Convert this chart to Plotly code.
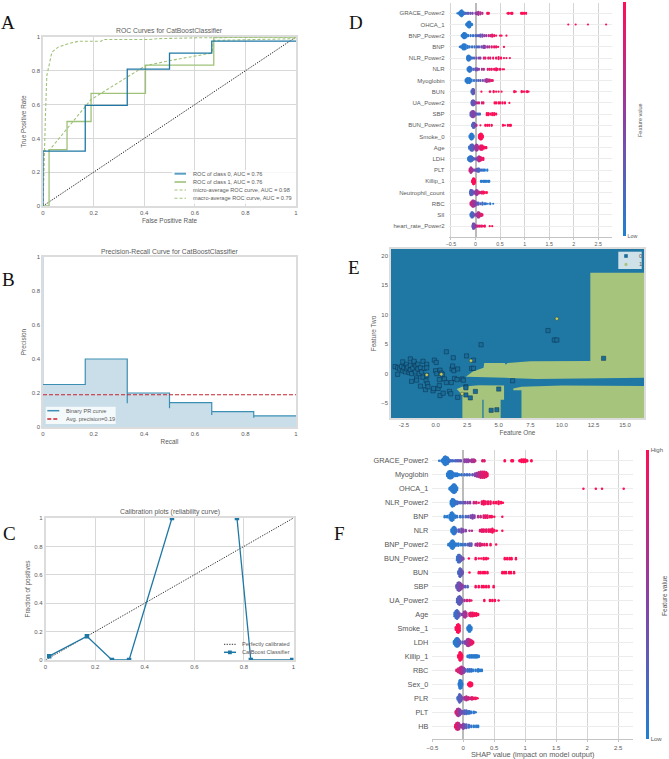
import plotly.graph_objects as go

W, H = 669, 759
FONT = "Liberation Sans"
GREY = "#5a5a5a"
BLUE = "#1f78a4"
GREEN = "#9fc27a"
SCALE = [[0, "#1f80d2"], [0.5, "#8c3fa5"], [1, "#ff0d57"]]

# ---------- A: ROC ----------
roc0_x = [0, 0, .167, .167, .333, .333, .5, .5, .667, .667, 1]
roc0_y = [0, .325, .325, .595, .595, .81, .81, .905, .905, .975, .975]
roc1_x = [0, .024, .024, .095, .095, .19, .19, .405, .405, .675, .675, 1]
roc1_y = [0, 0, .333, .333, .5, .5, .667, .667, .833, .833, 1, 1]
micro_x = [0, .002, .005, .01, .015, .025, .035, .06, .1, .14, .23, .24, .42, .45, .6, 1]
micro_y = [0, .15, .32, .55, .77, .85, .91, .94, .96, .975, .975, .985, .985, .99, .995, 1]
macro_x = [0, 0, .025, .19, .405, .5, .667, .675, 1]
macro_y = [0, .325, .33, .63, .83, .86, .905, .98, .99]
chance = [0, 1]
roc_legend = ["ROC of class 0, AUC = 0.76", "ROC of class 1, AUC = 0.76",
              "micro-average ROC curve, AUC = 0.98", "macro-average ROC curve, AUC = 0.79"]

# ---------- B: precision-recall ----------
pr_x = [0, .167, .167, .333, .333, .333, .5, .5, .5, .667, .667, .667, .833, .833, .833, 1]
pr_y = [.25, .25, .4, .4, .14, .2, .2, .11, .143, .143, .07, .09, .09, .055, .065, .065]
pr_start_x = [0, 0]
pr_start_y = [.25, 1]
avg_precision = .19

# ---------- C: calibration ----------
cal_x = [.015, .167, .268, .337, .51, None, .772, .828, .995]
cal_y = [.027, .167, 0, 0, 1, None, 1, 0, 0]

# ---------- E: decision regions ----------
arm_x = [2.4, 2.95, 3.8, 3.85, 5.5, 5.5, 5.6, 5.7, 7.5, 12.25, 12.25, 16.5, 16.5, 14.5, 12.2, 8, 5.5, 3.0, 2.4]
arm_y = [-.5, .35, 1.0, 1.8, 1.8, 1.6, 1.6, 1.8, 2.1, 2.15, 17.1, 17.1, -.7, -.75, -.9, -.9, -.7, -.6, -.5]
low_left_x = [1.67, 2.1, 3.4, 5.42, 5.42, 5.15, 5.15, 3.8, 3.8, 3.7, 3.7, 2.12, 2.12, 1.67]
low_left_y = [-2.6, -2.2, -1.95, -2.0, -4.4, -4.4, -7.5, -7.5, -4.4, -4.4, -7.5, -7.5, -3.6, -2.6]
low_right_x = [6.15, 6.8, 10, 16.5, 16.5, 6.8, 6.8, 6.15]
low_right_y = [-2.5, -2.2, -2.0, -2.1, -7.5, -7.5, -2.8, -2.8]
class0_x = [-3.2, -3.0, -3.0, -2.85, -2.7, -2.6, -2.6, -2.5, -2.4, -2.3, -2.3, -2.2, -2.1, -2.0, -2.0, -2.0, -1.9, -1.9,
            -1.8, -1.7, -1.7, -1.6, -1.55, -1.5, -1.5, -1.4, -1.4, -1.3, -1.2, -1.2, -1.1, -1.0, -1.0, -.9, -.8, -.75,
            -.7, -.7, -.7, -.65, -.6, -.2, -.15, -.1, 0, .05, .1, .2, .3, .35, .3, .35, .45, .55, .6, .7, .85, .85,
            1.1, 1.2, 1.25, 1.3, 1.35, 1.4, 1.45, 1.5, 1.7, 1.75, 1.75, 2.1, 2.2, 2.4, 2.4, 2.4, 2.45, 2.75, 2.85,
            3.0, 3.0, 3.15, 3.6, 4.4, 4.85, 5.0, 6.1, 8.9, 9.4, 9.6, 13.3]
class0_y = [1.2, -.1, 1.0, .8, 1.2, .5, 2.0, 1.0, .3, 1.6, .8, 1.1, .2, 2.5, 1.4, .6, -1.3, 0, .9, 1.8, 2.1, .3, 1.3,
            -.7, -1.1, .8, 1.6, 0, 1.0, -2.1, .3, -.6, 2.1, .9, -2.7, -1.2, -.3, 1.6, 1.0, -1.7, -2.2, -2.9, -2.5, 2.3,
            .5, 1.9, 0, -2.5, -2.0, .6, -1.0, -3.7, .1, -.1, -3.3, -.9, -1.5, 3.7, -3.0, -3.4, -1.5, .8, 1.3, 2.7, .5,
            -.8, -1.0, .8, -4.0, -.9, -1.1, -2.2, -2.4, -3.6, 3.0, -4.1, .9, .9, 2.3, -3.0, 4.9, -6.2, -6.1, -2.6, -1.2,
            7.3, 5.7, 5.7, 2.6]
class1_x = [-.7, .45, 2.8, 2.1, 9.6]
class1_y = [-.2, -.1, 2.2, -3.4, 9.3]

# ---------- D: SHAP summary, (shap value, points stacked, feature value) ----------
D_labels = ["GRACE_Power2", "OHCA_1", "BNP_Power2", "BNP", "NLR_Power2", "NLR", "Myoglobin", "BUN", "UA_Power2", "SBP",
            "BUN_Power2", "Smoke_0", "Age", "LDH", "PLT", "Killip_1", "Neutrophil_count", "RBC", "SII", "heart_rate_Power2"]
D_GRACE = [(-.37,1,.05),(-.34,2,.05),(-.32,4,.05),(-.30,6,.05),(-.28,7,.05),(-.26,5,.05),(-.24,3,.1),(-.22,2,.15),(-.20,2,.2),(-.17,2,.25),(-.14,2,.3),(-.10,2,.35),(-.06,2,.4),(0,2,.5),(.03,3,.55),(.06,4,.6),(.10,3,.65),(.14,2,.7),(.24,2,.95),(.27,2,.95),(.65,1,1),(.67,2,1),(.70,1,1),(.73,2,1),(.75,2,1),(.93,2,1),(.96,2,1),(.99,2,1),(1.03,2,1)]
D_OHCA = [(-.19,2,.05),(-.17,4,.05),(-.15,6,.05),(-.13,7,.05),(-.11,6,.05),(-.09,3,.05),(-.07,2,.05),(1.89,1,1),(2.04,1,1),(2.29,1,1),(2.66,1,1)]
D_BNP2 = [(-.28,2,.05),(-.26,4,.05),(-.24,6,.05),(-.22,6,.05),(-.2,5,.05),(-.18,3,.05),(-.15,2,.05),(-.1,2,.1),(-.05,2,.1),(0,2,.2),(.03,2,.2),(.07,2,.3),(.1,3,.3),(.14,3,.4),(.18,2,.5),(.22,2,.6),(.27,2,.65),(.31,2,.85),(.34,3,.9),(.38,2,.9),(.42,1,1),(.50,1,1),(.53,1,1),(.63,1,1)]
D_BNP = [(-.32,1,.05),(-.3,2,.05),(-.27,4,.05),(-.25,6,.05),(-.22,6,.05),(-.2,5,.05),(-.16,3,.05),(-.12,2,.1),(-.07,2,.1),(-.02,2,.15),(.03,2,.2),(.07,2,.25),(.12,2,.35),(.16,3,.45),(.19,3,.5),(.24,2,.6),(.28,2,.65),(.33,2,.85),(.38,2,.9),(.42,2,.95),(.46,1,1),(.58,1,1)]
D_NLR2 = [(-.17,3,.05),(-.16,5,.05),(-.14,6,.05),(-.12,5,.05),(-.1,3,.1),(-.07,2,.15),(-.03,2,.2),(.02,2,.4),(.07,2,.45),(.1,2,.5),(.17,2,.85),(.2,2,.85),(.26,2,.9),(.3,2,.9),(.36,2,.9),(.42,2,.95),(.47,3,.95),(.52,2,1),(.58,1,1),(.63,1,1),(.7,1,1)]
D_NLR = [(-.16,3,.05),(-.14,5,.05),(-.12,6,.05),(-.1,5,.1),(-.08,3,.15),(-.04,2,.2),(0,3,.3),(.03,3,.45),(.07,2,.5),(.13,2,.6),(.17,2,.65),(.25,2,.9),(.29,2,.9),(.33,2,.9),(.38,2,.95),(.42,3,.95),(.45,2,.95),(.5,2,1),(.55,1,1),(.58,1,1)]
D_MYO = [(-.2,3,.05),(-.18,5,.05),(-.16,6,.05),(-.13,6,.05),(-.11,5,.05),(-.08,3,.05),(-.03,2,.1),(.02,2,.15),(.06,2,.25),(.1,2,.3),(.15,2,.4),(.2,3,.55),(.23,4,.6),(.26,3,.7),(.29,3,.75),(.32,2,.9),(.35,2,.9)]
D_BUN = [(-.08,3,.15),(-.06,6,.2),(-.04,6,.3),(-.03,4,.35),(.12,1,1),(.29,1,1),(.3,1,1),(.37,2,1),(.42,1,1),(.47,1,1),(.53,1,1),(.79,2,1),(.82,1,1),(.94,2,1),(.97,1,1),(1.0,1,1),(1.05,2,1),(1.08,1,1)]
D_UA = [(-.08,3,.2),(-.07,5,.3),(-.05,6,.3),(-.03,5,.35),(-.01,3,.4),(.03,2,.7),(.07,2,.75),(.13,2,.85),(.16,2,.85),(.39,2,1),(.42,2,1),(.47,2,1),(.5,2,1),(.55,2,1),(.6,2,1),(.69,1,1)]
D_SBP = [(-.1,4,.3),(-.08,6,.35),(-.06,7,.45),(-.04,7,.5),(-.02,5,.45),(0,3,.4),(.03,2,.3),(.06,2,.2),(.09,2,.15),(.23,3,.95),(.26,3,1),(.3,2,1),(.34,3,1),(.38,3,1),(.42,2,1)]
D_BUN2 = [(-.07,3,.15),(-.05,6,.2),(-.03,6,.3),(-.01,4,.4),(.02,2,.7),(.1,1,1),(.2,2,1),(.24,2,1),(.28,2,1),(.33,2,1),(.56,2,1),(.6,1,1),(.66,2,1),(.7,2,1),(.72,2,1)]
D_SMOKE = [(-.12,3,.05),(-.1,6,.05),(-.08,7,.05),(-.06,6,.05),(-.04,3,.05),(.07,4,1),(.09,6,1),(.11,7,1),(.13,6,1),(.15,3,1)]
D_AGE = [(-.13,3,.1),(-.1,6,.15),(-.08,7,.2),(-.06,7,.25),(-.04,5,.3),(-.02,2,.4),(0,5,.55),(.02,7,.6),(.04,6,.6),(.07,3,.7),(.1,5,.85),(.12,5,.9),(.14,5,.95),(.17,3,.95),(.2,2,1),(.22,2,1)]
D_LDH = [(-.15,3,.05),(-.13,5,.05),(-.11,6,.1),(-.09,6,.1),(-.07,5,.15),(-.05,3,.2),(-.02,2,.3),(.01,2,.4),(.04,4,.5),(.07,6,.65),(.09,5,.75),(.11,4,.85),(.13,3,.9),(.16,3,.95)]
D_PLT = [(-.12,3,.85),(-.1,6,.7),(-.09,6,.65),(-.07,4,.6),(-.04,2,.5),(-.01,2,.4),(.02,3,.35),(.05,4,.25),(.07,4,.2),(.1,2,.15),(.13,2,.1),(.16,2,.1),(.19,2,.05),(.24,2,.05)]
D_KILLIP = [(-.07,3,1),(-.05,6,1),(-.04,7,1),(-.02,6,1),(-.01,3,1),(.11,2,.05),(.13,2,.05),(.16,2,.05),(.18,2,.05),(.2,2,.05),(.23,2,.05),(.26,2,.05),(.28,2,.05)]
D_NEUT = [(-.11,3,.15),(-.1,6,.2),(-.08,6,.25),(-.06,5,.3),(-.03,3,.4),(0,4,.5),(.02,6,.55),(.04,5,.6),(.07,3,.7),(.1,2,.8),(.13,3,.9),(.16,3,.95),(.19,2,1),(.23,2,1)]
D_RBC = [(-.1,3,.8),(-.08,5,.75),(-.06,7,.7),(-.04,7,.6),(-.02,6,.55),(0,5,.5),(.03,3,.35),(.06,3,.25),(.1,2,.2),(.14,3,.15),(.18,2,.1),(.21,2,.1),(.25,1,.05),(.3,2,.05),(.36,1,.05)]
D_SII = [(-.1,3,.1),(-.08,6,.15),(-.06,6,.2),(-.04,4,.3),(-.01,2,.4),(.02,3,.55),(.05,6,.6),(.07,6,.65),(.09,4,.75),(.12,3,.85),(.14,2,.9)]
D_HR = [(-.06,3,.3),(-.05,6,.35),(-.03,6,.4),(-.01,4,.45),(.02,2,.7),(.05,2,.8),(.09,2,.85),(.13,2,.9),(.16,1,.95),(.19,2,.95),(.29,1,1),(.34,1,1)]
D_rows = [D_GRACE, D_OHCA, D_BNP2, D_BNP, D_NLR2, D_NLR, D_MYO, D_BUN, D_UA, D_SBP, D_BUN2, D_SMOKE, D_AGE, D_LDH, D_PLT, D_KILLIP, D_NEUT, D_RBC, D_SII, D_HR]

# ---------- F: SHAP summary ----------
F_labels = ["GRACE_Power2", "Myoglobin", "OHCA_1", "NLR_Power2", "BNP", "NLR", "BNP_Power2", "BUN_Power2", "BUN", "SBP",
            "UA_Power2", "Age", "Smoke_1", "LDH", "Killip_1", "RBC", "Sex_0", "PLR", "PLT", "HB"]
F_GRACE = [(-.39,1,.05),(-.35,2,.05),(-.33,4,.05),(-.31,7,.05),(-.29,8,.05),(-.27,7,.05),(-.25,6,.05),(-.23,3,.1),(-.2,2,.15),(-.17,2,.15),(-.13,2,.2),(-.1,2,.25),(-.07,2,.3),(-.04,2,.35),(.02,3,.5),(.05,3,.5),(.08,3,.55),(.11,2,.55),(.14,3,.6),(.17,3,.65),(.19,2,.7),(.31,2,.85),(.34,2,.85),(.67,2,1),(.78,2,1),(.8,2,1),(.91,2,1),(.94,3,1),(.97,3,1),(1.0,3,1),(1.03,2,1),(1.1,2,1)]
F_MYO = [(-.26,3,.05),(-.24,6,.05),(-.22,7,.05),(-.2,7,.05),(-.18,6,.05),(-.16,4,.05),(-.13,3,.05),(-.1,3,.05),(-.07,2,.05),(-.03,2,.1),(.02,2,.15),(.06,2,.15),(.1,2,.2),(.15,2,.3),(.19,3,.45),(.22,4,.55),(.25,5,.65),(.28,6,.8),(.31,6,.85),(.34,6,.85),(.37,5,.9),(.39,3,.95)]
F_OHCA = [(-.22,2,.05),(-.2,4,.05),(-.18,6,.05),(-.16,8,.05),(-.14,8,.05),(-.12,6,.05),(-.1,3,.05),(1.94,1,1),(2.14,1,1),(2.24,1,1),(2.59,1,1)]
F_NLR2 = [(-.2,4,.05),(-.18,7,.05),(-.17,7,.05),(-.15,6,.05),(-.13,4,.1),(-.1,3,.15),(-.07,2,.2),(-.04,2,.25),(0,2,.3),(.03,2,.4),(.07,2,.45),(.11,2,.5),(.17,2,.75),(.21,2,.85),(.25,1,.9),(.3,3,.95),(.33,4,.95),(.36,3,.95),(.4,3,.95),(.44,3,.95),(.49,2,1),(.53,2,1),(.57,3,1),(.61,2,1),(.64,1,1)]
F_BNP = [(-.3,2,.05),(-.26,2,.05),(-.22,4,.05),(-.2,7,.05),(-.18,8,.05),(-.16,6,.05),(-.13,3,.05),(-.1,2,.1),(-.05,2,.1),(-.01,2,.15),(.04,2,.2),(.08,2,.25),(.12,3,.4),(.15,4,.45),(.18,3,.5),(.24,2,.7),(.28,2,.75),(.33,3,.85),(.36,3,.9),(.39,3,.9),(.43,2,.95),(.46,2,.95),(.5,1,1),(.63,1,1)]
F_NLR = [(-.19,3,.05),(-.17,6,.05),(-.15,7,.05),(-.13,6,.1),(-.11,3,.15),(-.07,3,.3),(-.03,4,.4),(0,3,.45),(.04,2,.5),(.1,1,.6),(.14,1,.7),(.27,2,.85),(.3,3,.9),(.33,3,.9),(.37,3,.9),(.41,3,.95),(.44,3,.95),(.47,4,.95),(.5,2,1),(.54,1,1),(.63,1,1)]
F_BNP2 = [(-.24,2,.05),(-.21,4,.05),(-.19,7,.05),(-.17,8,.05),(-.15,6,.05),(-.12,3,.05),(-.08,3,.05),(-.04,2,.1),(-.01,2,.1),(.03,2,.15),(.07,2,.2),(.1,3,.3),(.13,3,.3),(.2,2,.6),(.23,3,.7),(.27,3,.8),(.3,2,.85),(.34,2,.9),(.38,2,.95),(.44,2,.95),(.53,1,1)]
F_BUN2 = [(-.1,4,.1),(-.08,7,.15),(-.06,7,.2),(-.04,5,.25),(-.02,3,.35),(0,2,.45),(.09,1,1),(.2,2,1),(.25,1,1),(.29,1,1),(.33,2,1),(.37,2,1),(.4,1,1),(.67,2,1),(.71,2,1),(.75,2,1),(.78,2,1),(.85,2,1)]
F_BUN = [(-.08,3,.15),(-.06,7,.2),(-.05,8,.25),(-.03,6,.3),(-.01,3,.35),(.1,1,1),(.25,2,1),(.28,2,1),(.32,2,1),(.35,2,1),(.39,2,1),(.63,2,1),(.66,2,1),(.69,2,1),(.74,2,1),(.77,2,1),(.82,2,1)]
F_SBP = [(-.11,3,.3),(-.09,7,.35),(-.07,8,.35),(-.05,7,.45),(-.03,5,.5),(-.01,3,.5),(.03,2,.3),(.07,2,.2),(.2,2,.95),(.25,2,1),(.3,2,1),(.33,2,1),(.37,2,1),(.41,2,1),(.49,2,1)]
F_UA = [(-.1,4,.2),(-.08,7,.25),(-.06,8,.3),(-.04,6,.3),(-.02,3,.35),(.02,2,.7),(.06,2,.75),(.1,2,.85),(.13,1,.9),(.34,2,1),(.43,2,1),(.47,2,1),(.51,2,1),(.57,1,1)]
F_AGE = [(-.14,4,.1),(-.12,7,.15),(-.1,8,.2),(-.08,6,.25),(-.06,3,.3),(-.02,2,.45),(.01,5,.55),(.03,6,.6),(.05,4,.65),(.1,3,.85),(.12,4,.9),(.15,4,.95),(.18,3,.95),(.21,3,1),(.24,2,1)]
F_SMOKE = [(-.12,3,1),(-.1,7,1),(-.08,8,1),(-.06,6,1),(.07,3,.05),(.09,6,.05),(.11,6,.05),(.13,3,.05)]
F_LDH = [(-.15,3,.05),(-.13,6,.05),(-.11,8,.05),(-.09,8,.1),(-.07,6,.15),(-.05,3,.2),(-.01,2,.3),(.03,3,.45),(.06,6,.55),(.08,7,.6),(.1,6,.7),(.12,5,.8),(.14,4,.9),(.16,2,.95)]
F_KILLIP = [(-.08,3,1),(-.06,7,1),(-.05,8,1),(-.03,6,1),(-.02,3,1),(.07,2,.05),(.1,3,.05),(.13,3,.05),(.16,3,.05),(.19,3,.05),(.22,3,.05),(.25,2,.05)]
F_RBC = [(-.11,2,.9),(-.08,4,.8),(-.05,6,.75),(-.03,7,.7),(-.01,6,.6),(.01,5,.5),(.03,3,.35),(.07,3,.15),(.1,3,.1),(.13,3,.1),(.16,2,.05),(.2,2,.05),(.24,3,.05),(.27,2,.05),(.3,2,.05)]
F_SEX = [(-.07,3,.05),(-.06,7,.05),(-.05,8,.05),(-.03,7,.05),(-.02,3,.05),(.08,2,1),(.1,4,1),(.12,4,1),(.14,3,1)]
F_PLR = [(-.09,3,.15),(-.07,6,.2),(-.06,8,.25),(-.04,6,.3),(-.02,3,.35),(.02,3,.6),(.05,4,.7),(.08,3,.75),(.11,2,.8),(.14,3,.85),(.17,2,.9),(.2,2,.95),(.23,1,1)]
F_PLT = [(-.12,3,.85),(-.1,6,.75),(-.08,7,.6),(-.06,6,.5),(-.04,4,.45),(-.01,3,.35),(.02,4,.25),(.05,4,.2),(.08,3,.15),(.1,3,.1),(.13,2,.1),(.17,2,.05),(.2,1,.05)]
F_HB = [(-.13,3,.9),(-.11,6,.85),(-.09,7,.8),(-.07,6,.7),(-.05,3,.6),(-.02,3,.55),(0,5,.5),(.02,4,.4),(.05,4,.25),(.09,3,.15),(.13,2,.1),(.17,2,.05),(.21,2,.05),(.24,2,.05)]
F_rows = [F_GRACE, F_MYO, F_OHCA, F_NLR2, F_BNP, F_NLR, F_BNP2, F_BUN2, F_BUN, F_SBP, F_UA, F_AGE, F_SMOKE, F_LDH, F_KILLIP, F_RBC, F_SEX, F_PLR, F_PLT, F_HB]

fig = go.Figure()
px = lambda v: v / W
py = lambda v: 1 - v / H


def axes(n, x0, x1, y0, y1, xr, yr, xticks, yticks, xtitle, ytitle, grid=True, xstand=4, ystand=4, line=True, tfs=6, tts=6.4):
    common = dict(showline=line, mirror=line, linecolor="#dcdcdc", linewidth=1.5, showgrid=grid, gridcolor="#d8d8d8",
                  gridwidth=1, zeroline=False, ticks="", tickfont=dict(family=FONT, size=tfs, color=GREY),
                  automargin=False)
    xa = dict(common, domain=[px(x0), px(x1)], range=xr, tickvals=xticks, anchor=f"y{n}",
              title=dict(text=xtitle, standoff=xstand, font=dict(family=FONT, size=tts, color=GREY)))
    ya = dict(common, domain=[py(y1), py(y0)], range=yr, tickvals=yticks, anchor=f"x{n}",
              title=dict(text=ytitle, standoff=ystand, font=dict(family=FONT, size=tts, color=GREY)))
    fig.update_layout({f"xaxis{n}": xa, f"yaxis{n}": ya})


annos, shapes = [], []


def text(x, y, s, size=6.5, color=GREY, anchor="center", angle=0, family=FONT):
    annos.append(dict(x=px(x), y=py(y), xref="paper", yref="paper", text=s, showarrow=False, xanchor=anchor,
                      yanchor="middle", textangle=angle, font=dict(family=family, size=size, color=color)))


def key_line(x0, x1, y, color, dash="solid", width=1.5):
    shapes.append(dict(type="line", xref="paper", yref="paper", x0=px(x0), x1=px(x1), y0=py(y), y1=py(y),
                       line=dict(color=color, dash=dash, width=width)))


def box(x0, y0, x1, y1, fill):
    shapes.append(dict(type="rect", xref="paper", yref="paper", x0=px(x0), x1=px(x1), y0=py(y0), y1=py(y1),
                       fillcolor=fill, line=dict(width=0)))


def line(n, x, y, color, width=1.5, dash="solid", **kw):
    fig.add_trace(go.Scatter(x=x, y=y, mode="lines", line=dict(color=color, width=width, dash=dash),
                             xaxis=f"x{n}", yaxis=f"y{n}", showlegend=False, hoverinfo="skip", **kw))


tk = [0, .2, .4, .6, .8, 1]
SHORT_DASH = "3px,2px"
FINE_DOT = "1.3px,1.3px"
# A
axes(1, 43, 296, 37, 206, [0, 1], [0, 1], tk, tk, "False Positive Rate", "True Positive Rate")
line(1, chance, chance, "#222222", 1, FINE_DOT)
line(1, micro_x, micro_y, GREEN, 1.1, SHORT_DASH)
line(1, macro_x, macro_y, GREEN, 1.1, SHORT_DASH)
line(1, roc1_x, roc1_y, GREEN, 1.3)
line(1, roc0_x, roc0_y, BLUE, 1.3)
# B
axes(2, 43, 296, 257, 427, [0, 1], [0, 1], tk, tk, "Recall", "Precision", grid=False)
line(2, pr_start_x, pr_start_y, "#c9dee8", 2)
line(2, pr_x, pr_y, "#3c8fb3", 1.2, fill="tozeroy", fillcolor="#c9dee8")
line(2, [0, 1], [avg_precision, avg_precision], "#c8232c", 1.1, "4px,2px")
# C
axes(3, 45.5, 293.5, 518, 660, [0, 1], [0, 1], tk, tk, "", "Fraction of positives", ystand=3)
line(3, chance, chance, "#333333", 1, FINE_DOT)
fig.add_trace(go.Scatter(x=cal_x, y=cal_y, mode="lines+markers", line=dict(color=BLUE, width=1.3),
                         marker=dict(symbol="square", size=4.5, color=BLUE), xaxis="x3", yaxis="y3",
                         showlegend=False, hoverinfo="skip"))


def swarm(n, rows, labels, x0, x1, y0, y1, xr, yr, size, cb_x, cb_y0, cb_y1, lab_size, tick_size, xtitle, lab_color, gap):
    xs, ys, cs = [], [], []
    for i, row in enumerate(rows):
        for shap, count, val in row:
            for k in range(count):
                xs.append(shap)
                ys.append(i + (k - (count - 1) / 2) * gap)
                cs.append(val)
    axes(n, x0, x1, y0, y1, xr, yr, [-.5, 0, .5, 1, 1.5, 2, 2.5], list(range(len(labels))), xtitle, "", line=False,
         tfs=tick_size, xstand=1)
    fig.update_layout({
        f"xaxis{n}": dict(showline=True, mirror=False, linecolor="#c4c4c4", linewidth=1, zeroline=True,
                          zerolinecolor="#bbbbbb", zerolinewidth=1.6, gridcolor="#d4d4d4", ticks="outside",
                          ticklen=2, tickcolor="#c4c4c4"),
        f"yaxis{n}": dict(ticktext=labels, gridcolor="#ececec",
                          tickfont=dict(family=FONT, size=lab_size, color=lab_color), ticklabelstandoff=3)})
    fig.add_trace(go.Scatter(
        x=xs, y=ys, mode="markers", xaxis=f"x{n}", yaxis=f"y{n}", showlegend=False, hoverinfo="skip",
        marker=dict(size=size, color=cs, cmin=0, cmax=1, colorscale=SCALE, line=dict(width=0),
                    colorbar=dict(x=px(cb_x), xanchor="left", y=py(cb_y1), yanchor="bottom",
                                  len=(cb_y1 - cb_y0) / H, lenmode="fraction", thickness=2.5, thicknessmode="pixels",
                                  xpad=0, ypad=0, outlinewidth=0, tickvals=[0, 1], ticktext=["Low", "High"], ticks="",
                                  tickfont=dict(family=FONT, size=tick_size, color=GREY)))))


swarm(4, D_rows, D_labels, 448.5, 612, 3, 237, [-.55, 2.78], [19.97, -.92], 2.2, 623, 2, 236, 6, 5.3, "", GREY, .09)
# E
axes(5, 391, 644, 249, 418, [-3.53, 16.5], [-7.5, 21.1], [-2.5, 0, 2.5, 5, 7.5, 10, 12.5, 15],
     [-5, 0, 5, 10, 15, 20], "Feature One", "Feature Two", grid=False, tfs=6)
fig.update_layout(xaxis5=dict(ticktext=["-2.5", "0.0", "2.5", "5.0", "7.5", "10.0", "12.5", "15.0"]))
for gx, gy in [(arm_x, arm_y), (low_left_x, low_left_y), (low_right_x, low_right_y)]:
    line(5, gx, gy, "#a6c47c", 0, fill="toself", fillcolor="#a6c47c")
fig.add_trace(go.Scatter(x=class0_x, y=class0_y, mode="markers", xaxis="x5", yaxis="y5", showlegend=False,
                         hoverinfo="skip", marker=dict(symbol="square", size=4.2, color="#1a6d98",
                                                       line=dict(color="rgba(10,40,70,.75)", width=.6))))
fig.add_trace(go.Scatter(x=class1_x, y=class1_y, mode="markers", xaxis="x5", yaxis="y5", showlegend=False,
                         hoverinfo="skip", marker=dict(size=3.4, color="#c9cc55",
                                                       line=dict(color="rgba(10,40,70,.75)", width=.5))))
# F
swarm(6, F_rows, F_labels, 432.3, 633, 450, 739.3, [-.5, 2.74], [19.93, -.77], 2.5, 646, 450, 739, 7.3, 6,
      "SHAP value (impact on model output)", "#555555", .085)
fig.update_layout(xaxis6=dict(title=dict(font=dict(size=7.4), standoff=1)))

# titles
text(169.5, 30.5, "ROC Curves for CatBoostClassifier", 6.8)
text(169.5, 251.5, "Precision-Recall Curve for CatBoostClassifier", 6.8)
text(169.5, 512, "Calibration plots (reliability curve)", 6.8)
text(640, 120, "Feature value", 5.5, angle=-90)
text(664, 596, "Feature value", 6.6, angle=-90)

# legends
box(172, 170, 296, 204, "rgba(255,255,255,.8)")
for yy, lab, col, dash, wd in zip([173.7, 182, 190, 198.3], roc_legend, ["#5aa0c4", GREEN, GREEN, GREEN],
                                  ["solid", "solid", SHORT_DASH, SHORT_DASH], [2, 1.6, 1.1, 1.1]):
    key_line(174.5, 186, yy, col, dash, wd)
    text(191, yy, lab, 5.6, anchor="left")
box(45.7, 406.7, 115.7, 424, "rgba(255,255,255,.8)")
key_line(47.3, 59.3, 410.7, "#3c8fb3")
text(63.7, 410.7, "Binary PR curve", 5.6, anchor="left")
key_line(47.3, 59.3, 419, "#c8232c", "4px,2px")
text(63.7, 419, "Avg. precision=0.19", 5.6, anchor="left")
key_line(224, 236, 644.3, "#333333", FINE_DOT, 1)
text(240, 644.3, "Perfectly calibrated", 5.6, anchor="left")
key_line(224, 236, 652.3, BLUE)
box(228, 650.5, 231.8, 654.2, BLUE)
text(240, 652.3, "CatBoost Classifier", 5.6, anchor="left")
box(618.3, 251.7, 641.7, 269, "rgba(225,235,240,.9)")
box(624.2, 254.2, 627.8, 257.8, "#1a6d98")
shapes.append(dict(type="circle", xref="paper", yref="paper", x0=px(624.4), x1=px(627.6), y0=py(266), y1=py(262.8),
                   fillcolor="#a6c47c", line=dict(width=0)))
text(636.7, 256, "0", 6, anchor="left")
text(636.7, 264.3, "1", 6, anchor="left")

# panel letters
for lab, x, y in [("A", 8, 22), ("B", 8, 280), ("C", 9, 533), ("D", 356, 22), ("E", 354, 267), ("F", 339, 533)]:
    text(x, y, lab, 19, "#111111", family="Liberation Serif")

# panel E background: blue plot area drawn beneath its traces
shapes.append(dict(type="rect", xref="x5", yref="y5", x0=-3.53, x1=16.5, y0=-7.5, y1=21.1, fillcolor=BLUE,
                   line=dict(width=0), layer="below"))
fig.update_layout(width=W, height=H, margin=dict(l=0, r=0, t=0, b=0), paper_bgcolor="white", plot_bgcolor="white",
                  annotations=annos, shapes=shapes, showlegend=False)
fig.write_html("out.html", post_script="document.body.style.margin='0';", config={"displayModeBar": False})
